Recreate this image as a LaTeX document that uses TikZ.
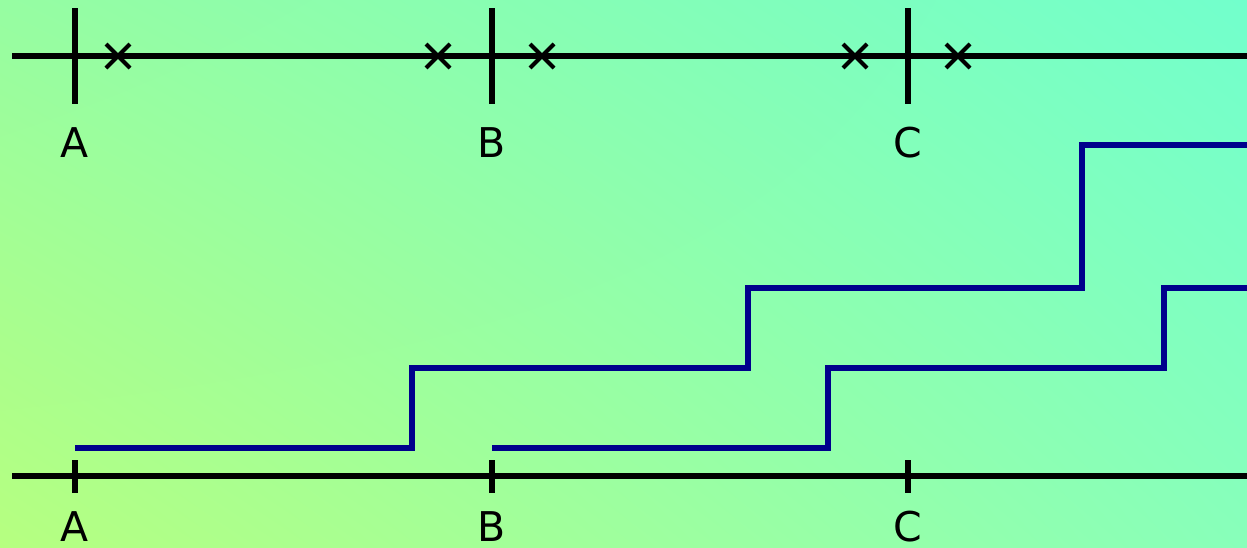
\documentclass[tikz,border=0pt]{standalone}
\usepackage{fontspec}
\setmainfont{DejaVu Sans}
\usetikzlibrary{shadings}
\definecolor{bgLL}{RGB}{182,255,128}
\definecolor{bgUL}{RGB}{150,253,162}
\definecolor{bgUR}{RGB}{114,255,204}
\definecolor{bgLR}{RGB}{136,255,186}
\definecolor{stairblue}{RGB}{0,0,140}
\begin{document}
\begin{tikzpicture}[x=1pt,y=-1pt,
  axisline/.style={line width=5.4pt,black},
  tickline/.style={line width=5.4pt,black},
  crossline/.style={line width=4pt,black},
  stair/.style={line width=5.6pt,stairblue},
  lbl/.style={font=\fontsize{41}{41}\selectfont,anchor=base,inner sep=0pt}]
\useasboundingbox (0,0) rectangle (1247,547);
\shade[lower left=bgLL,upper left=bgUL,upper right=bgUR,lower right=bgLR] (0,547) rectangle (1247,0);
% top axis
\coordinate (t0) at (12,56);
\coordinate (t1) at (1247,56);
\draw[axisline] (t0) -- (t1);
\foreach \n/\x in {A/75,B/492,C/908}{
  \coordinate (tt\n) at (\x,8);
  \coordinate (tb\n) at (\x,104);
  \draw[tickline] (tt\n) -- (tb\n);
  \node[lbl] (tl\n) at (\x,157) {\n};
}
\foreach \i/\x in {1/118,2/438,3/542,4/855,5/958}{
  \coordinate (c\i) at (\x,56);
  \draw[crossline] ([shift={(-12,-12)}]c\i) -- ([shift={(12,12)}]c\i);
  \draw[crossline] ([shift={(-12,12)}]c\i) -- ([shift={(12,-12)}]c\i);
}
% bottom axis
\coordinate (b0) at (12,476);
\coordinate (b1) at (1247,476);
\draw[axisline] (b0) -- (b1);
\foreach \n/\x in {A/75,B/492,C/908}{
  \coordinate (bt\n) at (\x,460);
  \coordinate (bb\n) at (\x,493);
  \draw[tickline] (bt\n) -- (bb\n);
  \node[lbl] (bl\n) at (\x,541) {\n};
}
% staircases
\coordinate (s1) at (75,448);
\coordinate (s1e) at (1247,145);
\draw[stair] (s1) -- (412,448) -- (412,368) -- (748,368) -- (748,288) -- (1082,288) -- (1082,145) -- (s1e);
\coordinate (s2) at (492,448);
\coordinate (s2e) at (1247,288);
\draw[stair] (s2) -- (828,448) -- (828,368) -- (1164,368) -- (1164,288) -- (s2e);
\end{tikzpicture}
\end{document}
